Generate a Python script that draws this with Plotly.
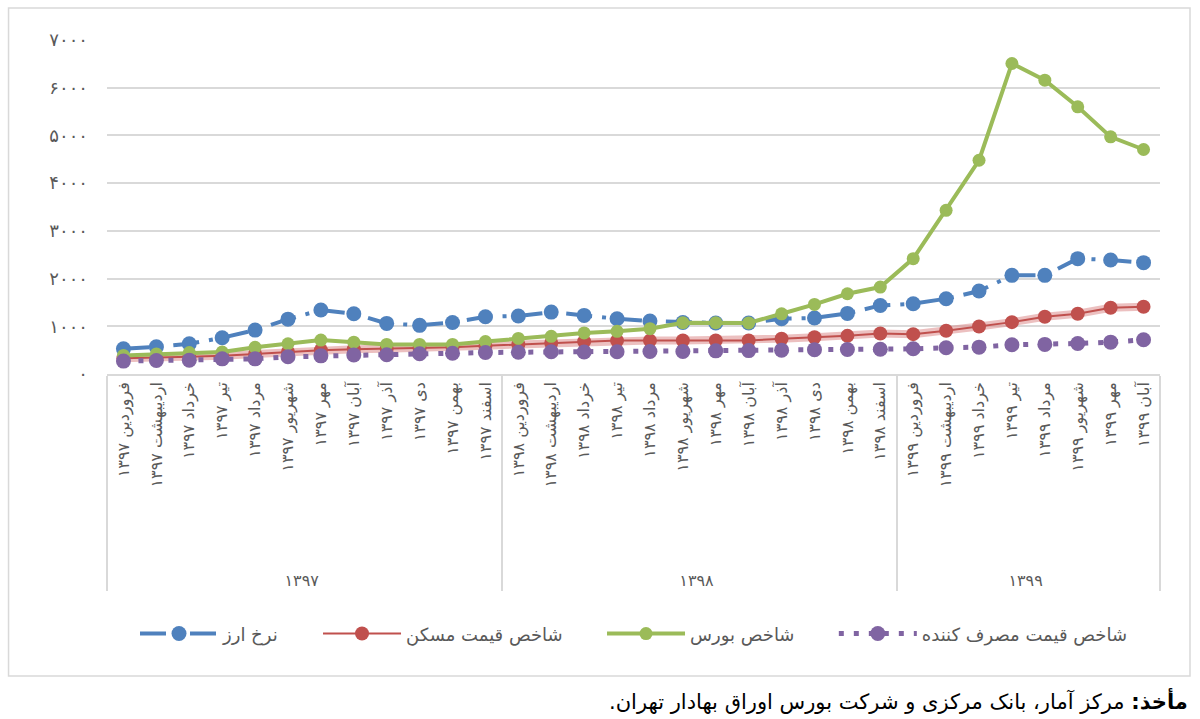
import plotly.graph_objects as go

months = ["فروردین", "اردیبهشت", "خرداد", "تیر", "مرداد", "شهریور",
          "مهر", "آبان", "آذر", "دی", "بهمن", "اسفند"]
years = ["۱۳۹۷", "۱۳۹۸", "۱۳۹۹"]
months_per_year = [12, 12, 8]

NB = "\u00a0"
PAD = NB * 13  # invisible padding so the year row sits lower, as in the original

year_level = []
month_level = []
for y, n in zip(years, months_per_year):
    for m in months[:n]:
        year_level.append(y)
        month_level.append(PAD + m + " " + y)

fx = [528, 570, 634, 760, 920, 1150, 1340, 1263, 1060, 1020, 1080, 1200,
      1215, 1297, 1228, 1158, 1110, 1080, 1070, 1070, 1158, 1175, 1270, 1437,
      1473, 1578, 1738, 2067, 2067, 2418, 2390, 2334]
housing = [330, 340, 360, 380, 420, 460, 500, 520, 530, 540, 560, 590,
           620, 650, 680, 700, 700, 703, 703, 703, 740, 770, 800, 850,
           835, 905, 997, 1087, 1200, 1262, 1389, 1410]
bourse = [390, 420, 450, 460, 560, 634, 710, 668, 620, 620, 620, 680,
          745, 790, 860, 895, 950, 1075, 1075, 1070, 1262, 1458, 1682, 1822,
          2418, 3431, 4480, 6508, 6159, 5600, 4970, 4705]
cpi = [270, 283, 290, 318, 318, 360, 380, 400, 405, 424, 435, 450,
       455, 465, 460, 465, 470, 472, 485, 490, 500, 510, 515, 520,
       528, 549, 563, 612, 620, 640, 668, 717]

names = ["نرخ ارز", "شاخص قیمت مسکن", "شاخص بورس", "شاخص قیمت مصرف کننده"]
y_ticks = [0, 1000, 2000, 3000, 4000, 5000, 6000, 7000]
y_ticktext = ["۰", "۱۰۰۰", "۲۰۰۰", "۳۰۰۰", "۴۰۰۰", "۵۰۰۰", "۶۰۰۰", "۷۰۰۰"]
source_bold = "مأخذ:"
source_rest = "مرکز آمار، بانک مرکزی و شرکت بورس اوراق بهادار تهران."

FONT = "DejaVu Sans"
x = [year_level, month_level]
legend_gap = NB * 6

fig = go.Figure()
fig.add_trace(go.Scatter(
    x=x, y=fx, name=names[0] + legend_gap, mode="lines+markers",
    line=dict(color="#4F81BD", width=4, dash="26px,10px,4px,10px"),
    marker=dict(size=15, color="#4F81BD")))
fig.add_trace(go.Scatter(
    x=x, y=housing, showlegend=False, mode="lines", hoverinfo="skip",
    line=dict(color="rgba(220,140,140,0.55)", width=8)))
fig.add_trace(go.Scatter(
    x=x, y=housing, name=names[1] + legend_gap, mode="lines+markers",
    line=dict(color="#C0504D", width=2),
    marker=dict(size=14, color="#C0504D")))
fig.add_trace(go.Scatter(
    x=x, y=bourse, name=names[2] + legend_gap, mode="lines+markers",
    line=dict(color="#9BBB59", width=4),
    marker=dict(size=13, color="#9BBB59")))
fig.add_trace(go.Scatter(
    x=x, y=cpi, name=names[3], mode="lines+markers",
    line=dict(color="#8064A2", width=5, dash="5px,10px"),
    marker=dict(size=15, color="#8064A2")))

fig.update_layout(
    width=1200, height=719,
    margin=dict(l=107, r=40, t=40, b=345, autoexpand=False),
    paper_bgcolor="white", plot_bgcolor="white",
    font=dict(family=FONT, color="#595959"),
    legend=dict(orientation="h", x=0.50, xanchor="center", y=-0.778, yanchor="middle",
                font=dict(size=18, color="#595959"), itemwidth=78, traceorder="normal"),
    xaxis=dict(type="multicategory", tickangle=-90, showline=True, linecolor="#d9d9d9",
               linewidth=1.5, showdividers=True, dividercolor="#d9d9d9", dividerwidth=1.5,
               tickfont=dict(size=16, color="#595959"), showgrid=False,
               range=[-0.5, 31.5]),
    yaxis=dict(range=[0, 7000], tickvals=y_ticks, ticktext=y_ticktext,
               gridcolor="#d9d9d9", gridwidth=1.5, zeroline=False, showline=False,
               tickfont=dict(size=18, color="#595959"), ticklabelstandoff=18),
    shapes=[dict(type="rect", xref="paper", yref="paper", x0=-0.0935, x1=1.0285,
                 y0=-0.904, y1=1.096, line=dict(color="#d9d9d9", width=1.5),
                 fillcolor="rgba(0,0,0,0)", layer="below")],
    annotations=[dict(xref="paper", yref="paper", x=1.0285, y=-0.979, xanchor="right",
                      yanchor="middle", showarrow=False,
                      text="<b>" + source_bold + "</b> " + source_rest + "\u200f",
                      font=dict(size=21, color="black", family=FONT))],
)

fig.write_html("out.html", config={"displayModeBar": False},
               post_script="document.body.style.margin='0px';")
